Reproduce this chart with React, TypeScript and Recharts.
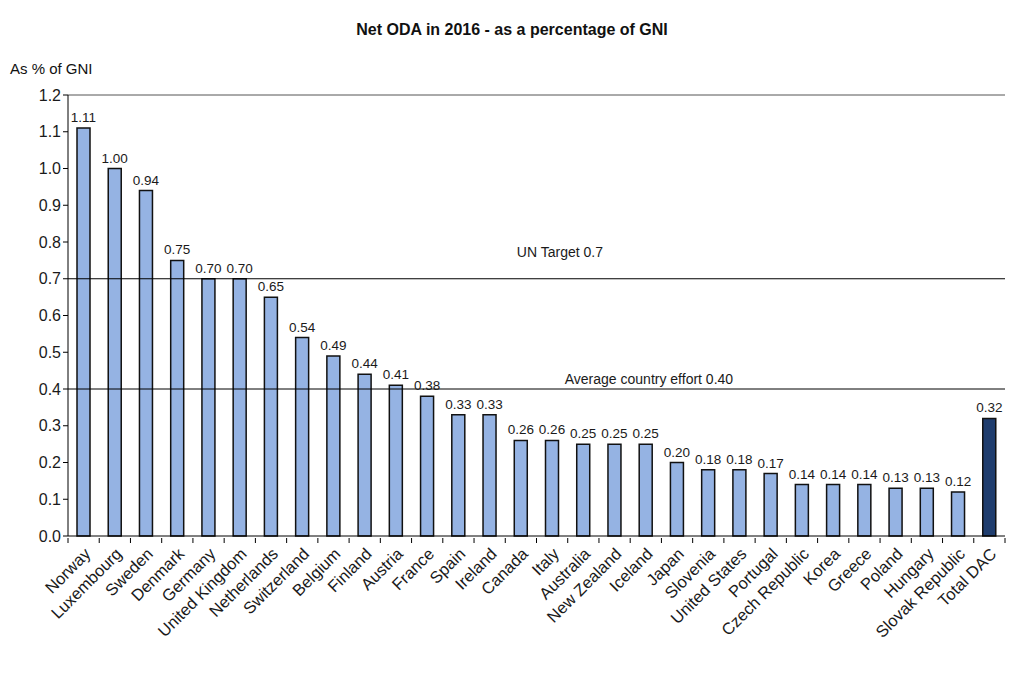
import {
  Bar,
  BarChart,
  Cell,
  LabelList,
  ReferenceLine,
  XAxis,
  YAxis,
} from "recharts";

const countries = [
  "Norway", "Luxembourg", "Sweden", "Denmark", "Germany", "United Kingdom",
  "Netherlands", "Switzerland", "Belgium", "Finland", "Austria", "France",
  "Spain", "Ireland", "Canada", "Italy", "Australia", "New Zealand", "Iceland",
  "Japan", "Slovenia", "United States", "Portugal", "Czech Republic", "Korea",
  "Greece", "Poland", "Hungary", "Slovak Republic", "Total DAC",
];
const odaShare = [
  1.11, 1.0, 0.94, 0.75, 0.7, 0.7, 0.65, 0.54, 0.49, 0.44, 0.41, 0.38, 0.33,
  0.33, 0.26, 0.26, 0.25, 0.25, 0.25, 0.2, 0.18, 0.18, 0.17, 0.14, 0.14, 0.14,
  0.13, 0.13, 0.12, 0.32,
];
const yTicks = [0, 0.1, 0.2, 0.3, 0.4, 0.5, 0.6, 0.7, 0.8, 0.9, 1.0, 1.1, 1.2];
const unTarget = 0.7;
const avgEffort = 0.4;

const data = countries.map((name, i) => ({ name, value: odaShare[i] }));

const FONT = "Arial, 'Liberation Sans', sans-serif";
const W = 1024;
const H = 681;
const M = { top: 95, right: 19, bottom: 0, left: 8 };
const X_H = 145;
const Y_W = 60;
const step = (W - M.left - M.right - Y_W) / countries.length;

const XTick = ({ x, y, payload, index }) => (
  <g>
    <line x1={x - step / 2} y1={y} x2={x - step / 2} y2={y + 5} stroke="#000" />
    {index === countries.length - 1 && (
      <line x1={x + step / 2} y1={y} x2={x + step / 2} y2={y + 5} stroke="#000" />
    )}
    <text
      transform={`translate(${x + 8},${y + 17}) rotate(-45)`}
      textAnchor="end"
      fontSize={16.5}
      fill="#1a1a1a"
      fontFamily={FONT}
    >
      {payload.value}
    </text>
  </g>
);

const LineLabel = ({ viewBox, text, frac, dy }) => (
  <text
    x={viewBox.x + viewBox.width * frac}
    y={viewBox.y - dy}
    textAnchor="middle"
    fontSize={14}
    fill="#1a1a1a"
    fontFamily={FONT}
  >
    {text}
  </text>
);

export default function App() {
  return (
    <div style={{ position: "absolute", left: 0, top: 0, width: W, height: H, background: "#fff", fontFamily: FONT }}>
      <div style={{ position: "absolute", left: 0, width: W, top: 21, textAlign: "center", fontWeight: "bold", fontSize: 16, color: "#111" }}>
        Net ODA in 2016 - as a percentage of GNI
      </div>
      <div style={{ position: "absolute", left: 10, top: 60, fontSize: 15, color: "#111" }}>
        As % of GNI
      </div>
      <BarChart width={W} height={H} data={data} margin={M} barSize={13}>
        <XAxis
          dataKey="name"
          interval={0}
          tickSize={0}
          tick={<XTick />}
          axisLine={{ stroke: "#000" }}
          height={X_H}
        />
        <YAxis
          domain={[0, 1.2]}
          ticks={yTicks}
          tickFormatter={(v) => v.toFixed(1)}
          width={Y_W}
          tickSize={5}
          axisLine={{ stroke: "#000" }}
          tickLine={{ stroke: "#000" }}
          tick={{ fontSize: 16, fill: "#1a1a1a", fontFamily: FONT }}
        />
        <YAxis
          yAxisId="right"
          orientation="right"
          domain={[0, 1.2]}
          width={0}
          tick={false}
          tickLine={false}
          axisLine={{ stroke: "#555" }}
        />
        <ReferenceLine y={1.2} stroke="#555" />
        <ReferenceLine
          y={unTarget}
          stroke="#000"
          label={<LineLabel text="UN Target 0.7" frac={0.525} dy={22} />}
        />
        <ReferenceLine
          y={avgEffort}
          stroke="#000"
          label={<LineLabel text="Average country effort 0.40" frac={0.62} dy={5} />}
        />
        <Bar dataKey="value" stroke="#111" strokeWidth={1.5} isAnimationActive={false}>
          {data.map((d, i) => (
            <Cell key={i} fill={d.name === "Total DAC" ? "#1f3d6e" : "#95b3e3"} />
          ))}
          <LabelList
            dataKey="value"
            position="top"
            offset={6}
            formatter={(v) => v.toFixed(2)}
            style={{ fontSize: 13.5, fill: "#1a1a1a", fontFamily: FONT }}
          />
        </Bar>
      </BarChart>
    </div>
  );
}
